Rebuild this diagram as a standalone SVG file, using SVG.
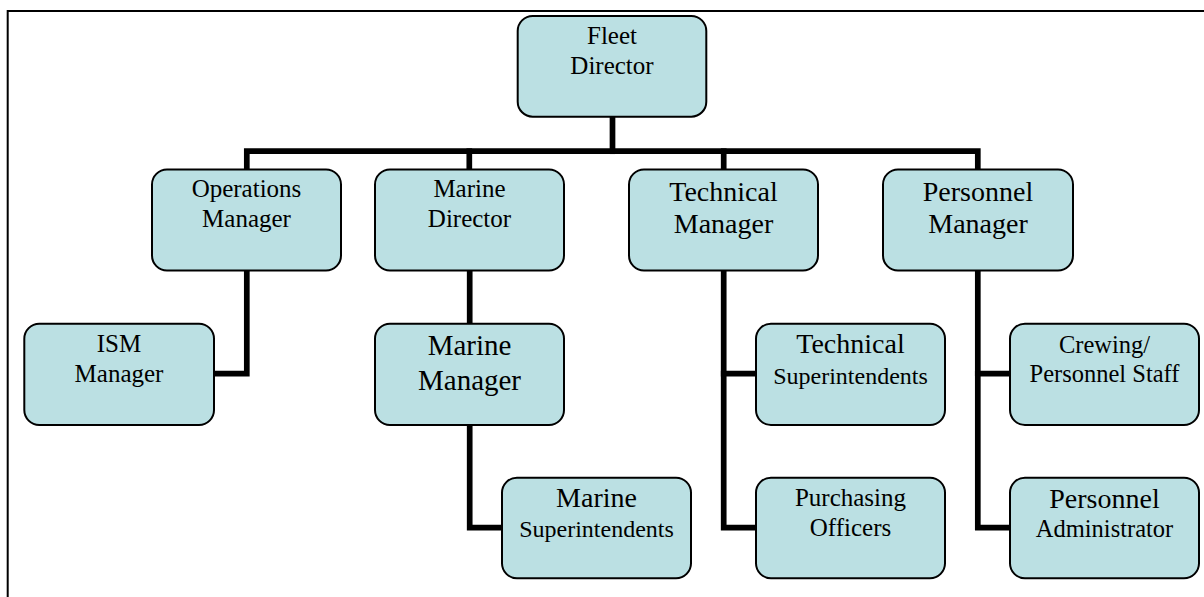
<svg xmlns="http://www.w3.org/2000/svg" width="1204" height="597" viewBox="0 0 1204 597">
  <style>
    .box { fill: #bbe0e3; stroke: #000; stroke-width: 2; }
    .lbl { font-family: "Liberation Serif", "Times New Roman", serif; fill: #000; text-anchor: middle; }
    .link { fill: none; stroke: #000; stroke-width: 5.7; stroke-linejoin: miter; stroke-linecap: square; }
    .frame { fill: none; stroke: #000; stroke-width: 2; }
  </style>
  <rect width="1204" height="597" fill="#fff"/>
  <!-- page frame -->
  <path class="frame" d="M7.7,597 V11 H1204"/>

  <!-- reporting lines -->
  <g id="connectors">
    <path class="link" d="M612.5,117 V151.2"/>
    <path class="link" d="M246.8,169 V151.2 H977.8 V169"/>
    <path class="link" d="M469.3,151.2 V169"/>
    <path class="link" d="M723.7,151.2 V169"/>
    <path class="link" d="M246.8,271 V373.7 H215"/>
    <path class="link" d="M469.7,271 V323"/>
    <path class="link" d="M469.7,425 V527.6 H501"/>
    <path class="link" d="M723.7,271 V527.6 H755"/>
    <path class="link" d="M723.7,373.7 H755"/>
    <path class="link" d="M977.8,271 V527.6 H1009"/>
    <path class="link" d="M977.8,373.7 H1009"/>
  </g>

  <g id="fleet-director">
    <rect class="box" x="517.7" y="16" width="188.6" height="100.7" rx="15"/>
    <text class="lbl" font-size="25" x="612" y="44.3">Fleet</text>
    <text class="lbl" font-size="25" x="612" y="74">Director</text>
  </g>

  <g id="operations-manager">
    <rect class="box" x="152" y="169.5" width="189" height="101" rx="15"/>
    <text class="lbl" font-size="25" x="246.5" y="196.5">Operations</text>
    <text class="lbl" font-size="25" x="246.5" y="227.3">Manager</text>
  </g>

  <g id="marine-director">
    <rect class="box" x="375" y="169.5" width="189" height="101" rx="15"/>
    <text class="lbl" font-size="25" x="469.5" y="196.7">Marine</text>
    <text class="lbl" font-size="25" x="469.5" y="227.3">Director</text>
  </g>

  <g id="technical-manager">
    <rect class="box" x="629" y="169.5" width="189" height="101" rx="15"/>
    <text class="lbl" font-size="28" x="723.5" y="200.7">Technical</text>
    <text class="lbl" font-size="28" x="723.5" y="233.3">Manager</text>
  </g>

  <g id="personnel-manager">
    <rect class="box" x="883" y="169.5" width="190" height="101" rx="15"/>
    <text class="lbl" font-size="28" x="978" y="200.7">Personnel</text>
    <text class="lbl" font-size="28" x="978" y="233.3">Manager</text>
  </g>

  <g id="ism-manager">
    <rect class="box" x="24.3" y="323.7" width="189.7" height="101.3" rx="15"/>
    <text class="lbl" font-size="25" x="119" y="351.7">ISM</text>
    <text class="lbl" font-size="25" x="119" y="381.7">Manager</text>
  </g>

  <g id="marine-manager">
    <rect class="box" x="375" y="323.7" width="189" height="101.3" rx="15"/>
    <text class="lbl" font-size="29" x="469.5" y="355">Marine</text>
    <text class="lbl" font-size="29" x="469.5" y="390">Manager</text>
  </g>

  <g id="technical-superintendents">
    <rect class="box" x="756" y="323.7" width="189" height="101.3" rx="15"/>
    <text class="lbl" font-size="28" x="850.5" y="353.3">Technical</text>
    <text class="lbl" font-size="24" x="850.5" y="384">Superintendents</text>
  </g>

  <g id="crewing-personnel-staff">
    <rect class="box" x="1010" y="323.7" width="189" height="101.3" rx="15"/>
    <text class="lbl" font-size="24.5" x="1104.5" y="352.7">Crewing/</text>
    <text class="lbl" font-size="24.5" x="1104.5" y="381.7">Personnel Staff</text>
  </g>

  <g id="marine-superintendents">
    <rect class="box" x="502" y="477.7" width="189" height="100.6" rx="15"/>
    <text class="lbl" font-size="28" x="596.5" y="507.3">Marine</text>
    <text class="lbl" font-size="24" x="596.5" y="536.7">Superintendents</text>
  </g>

  <g id="purchasing-officers">
    <rect class="box" x="756" y="477.7" width="189" height="100.6" rx="15"/>
    <text class="lbl" font-size="25" x="850.5" y="506">Purchasing</text>
    <text class="lbl" font-size="25" x="850.5" y="536">Officers</text>
  </g>

  <g id="personnel-administrator">
    <rect class="box" x="1010" y="477.7" width="189" height="100.6" rx="15"/>
    <text class="lbl" font-size="28" x="1104.5" y="508.3">Personnel</text>
    <text class="lbl" font-size="24.5" x="1104.5" y="537.3">Administrator</text>
  </g>
</svg>
